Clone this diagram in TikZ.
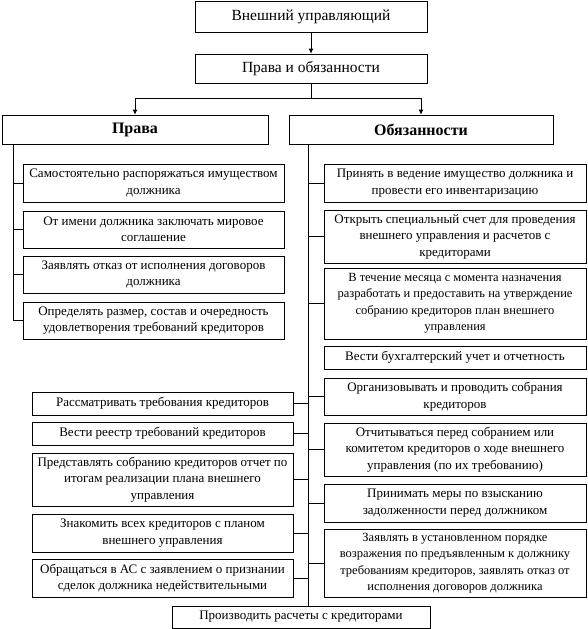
\documentclass[tikz,border=0pt]{standalone}
\usepackage{fontspec}
\setmainfont{Liberation Serif}
\usepackage{tikz}
\usetikzlibrary{positioning, arrows.meta}

\begin{document}
\begin{tikzpicture}[x=1pt, y=-1pt, line width=0.8pt,
  item/.style={draw, align=center, inner sep=1pt,
    font=\fontsize{13}{16.5}\selectfont},
  tight/.style={item, font=\fontsize{12.5}{16.5}\selectfont},
  top/.style={item, font=\fontsize{15.5}{18}\selectfont},
  head/.style={item, font=\fontsize{16}{18}\selectfont\bfseries},
  arr/.style={-{Latex[length=5pt,width=5pt]}}
]
\useasboundingbox (0,0) rectangle (587,629);

% top of the tree
\node[top, minimum width=232pt, minimum height=31pt] (manager) at (311,16.5)
  {Внешний управляющий};
\node[top, minimum width=232pt, minimum height=29pt] (both) at (311,68.5)
  {Права и обязанности};
\node[head, minimum width=266pt, minimum height=29pt] (rights) at (135,129.5)
  {Права};
\node[head, minimum width=264pt, minimum height=29pt] (duties) at (421,129.5)
  {Обязанности};

\draw[arr] (manager) -- (both);
\draw (both.south) -- ++(0,15) coordinate (split);
\draw[arr] (split) -| (rights);
\draw[arr] (split) -| (duties);

% rights, upper column
\node[item, minimum width=261pt, minimum height=38pt] (r1) at (153.5,183)
  {Самостоятельно распоряжаться имуществом\\должника};
\node[item, minimum width=261pt, minimum height=37pt] (r2) at (153.5,229.5)
  {От имени должника заключать мировое\\соглашение};
\node[item, minimum width=261pt, minimum height=37pt] (r3) at (153.5,274.5)
  {Заявлять отказ от исполнения договоров\\должника};
\node[item, minimum width=261pt, minimum height=37pt] (r4) at (153.5,320.5)
  {Определять размер, состав и очередность\\удовлетворения требований кредиторов};

% rights, lower column
\node[item, minimum width=261pt, minimum height=23pt] (r5) at (162.5,403.5)
  {Рассматривать требования кредиторов};
\node[item, minimum width=261pt, minimum height=23pt] (r6) at (162.5,433.5)
  {Вести реестр требований кредиторов};
\node[item, minimum width=261pt, minimum height=53pt] (r7) at (162.5,479.5)
  {Представлять собранию кредиторов отчет по\\итогам реализации плана внешнего\\управления};
\node[item, minimum width=261pt, minimum height=38pt] (r8) at (162.5,533)
  {Знакомить всех кредиторов с планом\\внешнего управления};
\node[item, minimum width=261pt, minimum height=38pt] (r9) at (162.5,578)
  {Обращаться в АС с заявлением о признании\\сделок должника недействительными};

% duties
\node[item, minimum width=262pt, minimum height=38pt] (d1) at (455,183)
  {Принять в ведение имущество должника и\\провести его инвентаризацию};
\node[item, minimum width=262pt, minimum height=53pt] (d2) at (455,236.5)
  {Открыть специальный счет для проведения\\внешнего управления и расчетов с\\кредиторами};
\node[tight, minimum width=262pt, minimum height=71pt] (d3) at (455,303.5)
  {В течение месяца с момента назначения\\разработать и предоставить на утверждение\\собранию кредиторов план внешнего\\управления};
\node[item, minimum width=262pt, minimum height=23pt] (d4) at (455,357.5)
  {Вести бухгалтерский учет и отчетность};
\node[item, minimum width=262pt, minimum height=37pt] (d5) at (455,396.5)
  {Организовывать и проводить собрания\\кредиторов};
\node[item, minimum width=262pt, minimum height=53pt] (d6) at (455,449.5)
  {Отчитываться перед собранием или\\комитетом кредиторов о ходе внешнего\\управления (по их требованию)};
\node[item, minimum width=262pt, minimum height=38pt] (d7) at (455,503)
  {Принимать меры по взысканию\\задолженности перед должником};
\node[tight, minimum width=262pt, minimum height=68pt] (d8) at (455,563)
  {Заявлять в установленном порядке\\возражения по предъявленным к должнику\\требованиям кредиторов, заявлять отказ от\\исполнения договоров должника};
\node[item, minimum width=258pt, minimum height=22pt] (pay) at (301,617)
  {Производить расчеты с кредиторами};

% trunks
\coordinate (ltrunk) at (13,144);
\coordinate (rtrunk) at (308,144);
\draw (ltrunk) |- (r4);
\foreach \n in {r1,r2,r3}
  \draw (\n.west) -- (\n.west -| ltrunk);
\draw (rtrunk) -- (rtrunk |- pay.north);
\foreach \n in {d1,d2,d3,d5,d6,d7,d8}
  \draw (\n.west) -- (\n.west -| rtrunk);
\foreach \n in {r5,r6,r7,r8,r9}
  \draw (\n.east) -- (\n.east -| rtrunk);

\end{tikzpicture}
\end{document}
